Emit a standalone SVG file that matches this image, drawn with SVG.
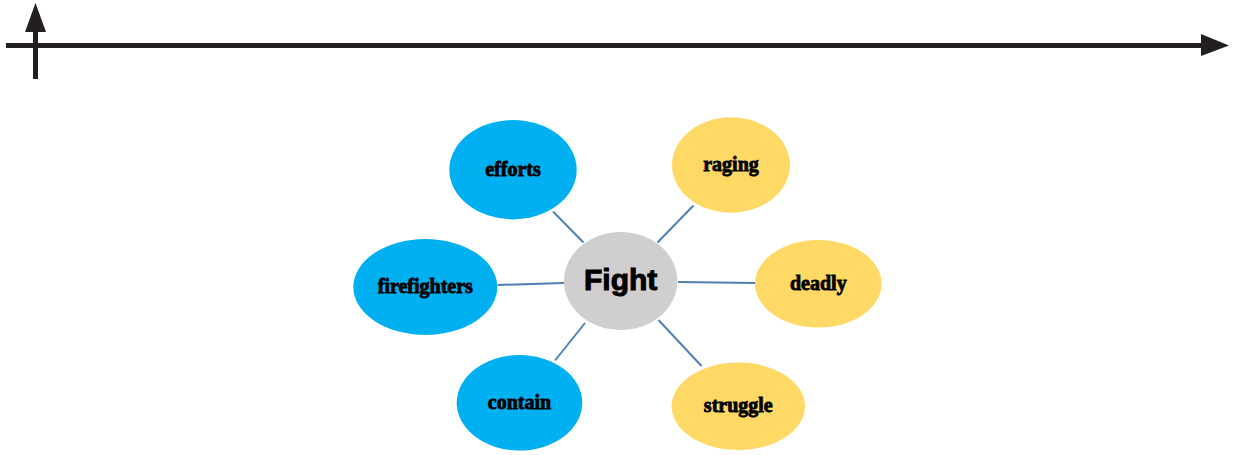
<svg xmlns="http://www.w3.org/2000/svg" width="1234" height="455" viewBox="0 0 1234 455">
  <style>
    .axis { stroke: #231f20; stroke-width: 5; fill: none; }
    .head { fill: #231f20; }
    .link { stroke: #4f7fb5; stroke-width: 2; fill: none; }
    .blue { fill: #00b0f0; }
    .yellow { fill: #ffd966; }
    .hub { fill: #d0cece; }
    .word { font-family: "Liberation Serif", "Times New Roman", serif; font-weight: bold; font-size: 20px; fill: #000; stroke: #000; stroke-width: 0.8; text-anchor: middle; }
    .hubtext { font-family: "Liberation Sans", Arial, sans-serif; font-weight: bold; font-size: 30px; fill: #000; stroke: #000; stroke-width: 1; text-anchor: middle; }
  </style>

  <!-- axes -->
  <g id="axes">
    <line class="axis" x1="6" y1="45.5" x2="1203" y2="45.5"/>
    <polygon class="head" points="1201,34 1229,45.5 1201,56"/>
    <line class="axis" x1="35.5" y1="79" x2="35.5" y2="30"/>
    <polygon class="head" points="25,32 35.5,3 46,32"/>
  </g>

  <!-- spokes between the hub and each word -->
  <g id="connectors">
    <line class="link" x1="553" y1="211.5" x2="583.5" y2="242.5"/>
    <line class="link" x1="693.5" y1="205.5" x2="657.5" y2="242.5"/>
    <line class="link" x1="497.5" y1="285" x2="564" y2="283"/>
    <line class="link" x1="678" y1="282" x2="755" y2="283"/>
    <line class="link" x1="585" y1="323" x2="555" y2="360.5"/>
    <line class="link" x1="658.5" y1="320" x2="701.5" y2="366"/>
  </g>

  <g id="node-fight">
    <ellipse class="hub" cx="620.7" cy="281" rx="56.7" ry="49"/>
    <text class="hubtext" x="620.7" y="290">Fight</text>
  </g>

  <g id="node-efforts">
    <ellipse class="blue" cx="513" cy="169.7" rx="63.7" ry="49.7"/>
    <text class="word" x="513" y="175.5">efforts</text>
  </g>

  <g id="node-firefighters">
    <ellipse class="blue" cx="425.3" cy="287" rx="72" ry="48"/>
    <text class="word" x="425.3" y="293">firefighters</text>
  </g>

  <g id="node-contain">
    <ellipse class="blue" cx="519.5" cy="402.8" rx="62.8" ry="47.8"/>
    <text class="word" x="519.5" y="408.5">contain</text>
  </g>

  <g id="node-raging">
    <ellipse class="yellow" cx="731" cy="165" rx="59" ry="47.7"/>
    <text class="word" x="731" y="171">raging</text>
  </g>

  <g id="node-deadly">
    <ellipse class="yellow" cx="818.3" cy="283.8" rx="63.3" ry="43.8"/>
    <text class="word" x="818.3" y="290">deadly</text>
  </g>

  <g id="node-struggle">
    <ellipse class="yellow" cx="738.3" cy="406.3" rx="66.7" ry="43.7"/>
    <text class="word" x="738.3" y="412">struggle</text>
  </g>
</svg>
